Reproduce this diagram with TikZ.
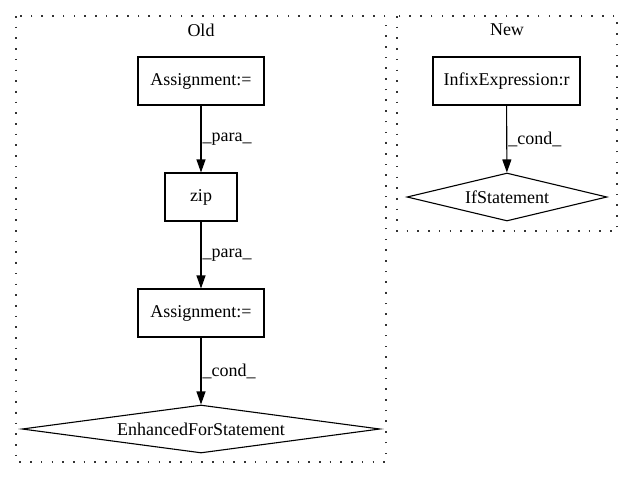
\documentclass[tikz,border=0pt]{standalone}
\usepackage{fontspec}
\setmainfont{Liberation Serif}
\usepackage{tikz}
\usetikzlibrary{shapes.geometric, arrows.meta}

\begin{document}
\begin{tikzpicture}[x=1pt, y=-1pt,
		font=\fontsize{18}{21}\selectfont,
		box/.style={draw=black, line width=1.1pt, rectangle, inner sep=0pt, minimum height=48pt},
		cond/.style={draw=black, line width=1.1pt, diamond, inner sep=0pt, minimum height=48pt},
		edge/.style={draw=black, line width=1.1pt, -{Triangle[length=13pt, width=9pt]}},
		elabel/.style={midway, anchor=west, inner sep=1pt},
		cluster/.style={draw=black!80, line width=1.1pt, dash pattern=on 1.6pt off 9.1pt}]
		\useasboundingbox (0,0) rectangle (632,480);
		% clusters
		\draw[cluster] (16,16) rectangle (386,462);
		\draw[cluster] (397,16) rectangle (617,231);
		\node (oldtitle) at (201,30) {Old};
		\node (newtitle) at (507,30) {New};
		% old
		\node[box, minimum width=126pt] (assign1) at (201,81) {Assignment:=};
		\node[box, minimum width=72pt] (zip) at (201,197) {zip};
		\node[box, minimum width=126pt] (assign2) at (201,313) {Assignment:=};
		\node[cond, minimum width=358pt, shape aspect=7.46] (efor) at (201,429) {EnhancedForStatement};
		% new
		\node[box, minimum width=147pt] (infix) at (506.5,81) {InfixExpression:r};
		\node[cond, minimum width=200pt, shape aspect=4.17] (ifst) at (507,197) {IfStatement};
		\draw[edge] (assign1) -- node[elabel] {\_para\_} (zip);
		\draw[edge] (zip) -- node[elabel] {\_para\_} (assign2);
		\draw[edge] (assign2) -- node[elabel] {\_cond\_} (efor);
		\draw[edge] (infix) -- node[elabel] {\_cond\_} (ifst);
\end{tikzpicture}
\end{document}
